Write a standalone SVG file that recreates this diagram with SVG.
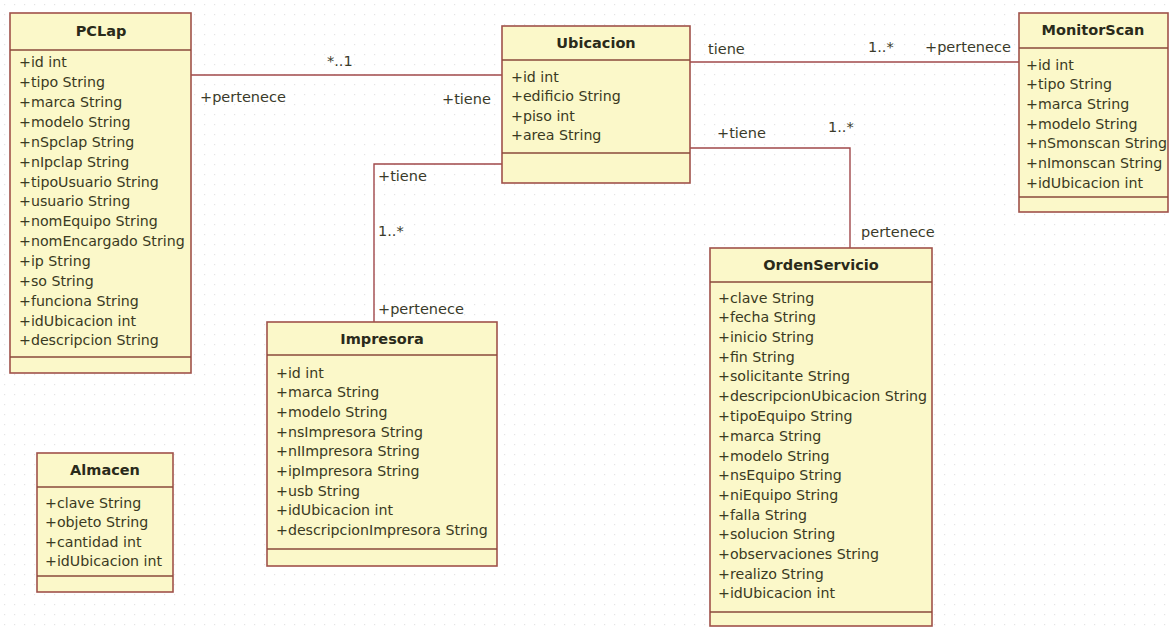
<svg xmlns="http://www.w3.org/2000/svg" width="1169" height="628" viewBox="0 0 1169 628">
<defs>
<pattern id="grid" width="10" height="10" patternUnits="userSpaceOnUse">
<rect x="4" y="4" width="1.2" height="1.2" fill="#e4e4e4"/>
</pattern>
<style>
.box{fill:#fbf8c9;stroke:#a0524a;stroke-width:1.6}
.div{stroke:#8a4a3a;stroke-width:1.4}
.title{font-family:"DejaVu Sans",Verdana,sans-serif;font-size:14.5px;font-weight:bold;fill:#2a2a1a;text-anchor:middle}
.attr{font-family:"DejaVu Sans",Verdana,sans-serif;font-size:14.2px;fill:#3a3a22}
.lbl{font-family:"DejaVu Sans",Verdana,sans-serif;font-size:14.5px;fill:#3a3a2a}
.conn{fill:none;stroke:#a0484a;stroke-width:1.4}
</style>
</defs>
<rect width="1169" height="628" fill="#ffffff"/>
<rect width="1169" height="628" fill="url(#grid)"/>

<g id="connectors">
<line class="conn" x1="191" y1="75" x2="502" y2="75"/>
<line class="conn" x1="690" y1="62" x2="1019" y2="62"/>
<polyline class="conn" points="690,148 850,148 850,248"/>
<polyline class="conn" points="502,164 374,164 374,322"/>
<text class="lbl" x="327" y="66">*..1</text>
<text class="lbl" x="200" y="102">+pertenece</text>
<text class="lbl" x="442" y="104">+tiene</text>
<text class="lbl" x="708" y="54">tiene</text>
<text class="lbl" x="868" y="52">1..*</text>
<text class="lbl" x="925" y="52">+pertenece</text>
<text class="lbl" x="717" y="138">+tiene</text>
<text class="lbl" x="828" y="132">1..*</text>
<text class="lbl" x="861" y="237">pertenece</text>
<text class="lbl" x="378" y="181">+tiene</text>
<text class="lbl" x="378" y="236">1..*</text>
<text class="lbl" x="378" y="314">+pertenece</text>
</g>

<g id="PCLap">
<rect class="box" x="10" y="13" width="181" height="360"/>
<line class="div" x1="10" y1="50" x2="191" y2="50"/>
<line class="div" x1="10" y1="357" x2="191" y2="357"/>
<text class="title" x="101" y="36">PCLap</text>
<text class="attr" x="19" y="67">+id int</text>
<text class="attr" x="19" y="87">+tipo String</text>
<text class="attr" x="19" y="107">+marca String</text>
<text class="attr" x="19" y="127">+modelo String</text>
<text class="attr" x="19" y="147">+nSpclap String</text>
<text class="attr" x="19" y="167">+nIpclap String</text>
<text class="attr" x="19" y="187">+tipoUsuario String</text>
<text class="attr" x="19" y="206">+usuario String</text>
<text class="attr" x="19" y="226">+nomEquipo String</text>
<text class="attr" x="19" y="246">+nomEncargado String</text>
<text class="attr" x="19" y="266">+ip String</text>
<text class="attr" x="19" y="286">+so String</text>
<text class="attr" x="19" y="306">+funciona String</text>
<text class="attr" x="19" y="326">+idUbicacion int</text>
<text class="attr" x="19" y="345">+descripcion String</text>
</g>

<g id="Ubicacion">
<rect class="box" x="502" y="26" width="188" height="157"/>
<line class="div" x1="502" y1="60" x2="690" y2="60"/>
<line class="div" x1="502" y1="153" x2="690" y2="153"/>
<text class="title" x="596" y="48">Ubicacion</text>
<text class="attr" x="511" y="82">+id int</text>
<text class="attr" x="511" y="101">+edificio String</text>
<text class="attr" x="511" y="121">+piso int</text>
<text class="attr" x="511" y="140">+area String</text>
</g>

<g id="MonitorScan">
<rect class="box" x="1019" y="13" width="149" height="199"/>
<line class="div" x1="1019" y1="48" x2="1168" y2="48"/>
<line class="div" x1="1019" y1="197" x2="1168" y2="197"/>
<text class="title" x="1093" y="35">MonitorScan</text>
<text class="attr" x="1026" y="70">+id int</text>
<text class="attr" x="1026" y="89">+tipo String</text>
<text class="attr" x="1026" y="109">+marca String</text>
<text class="attr" x="1026" y="129">+modelo String</text>
<text class="attr" x="1026" y="148">+nSmonscan String</text>
<text class="attr" x="1026" y="168">+nImonscan String</text>
<text class="attr" x="1026" y="188">+idUbicacion int</text>
</g>

<g id="Impresora">
<rect class="box" x="267" y="322" width="230" height="244"/>
<line class="div" x1="267" y1="355" x2="497" y2="355"/>
<line class="div" x1="267" y1="549" x2="497" y2="549"/>
<text class="title" x="382" y="344">Impresora</text>
<text class="attr" x="276" y="378">+id int</text>
<text class="attr" x="276" y="397">+marca String</text>
<text class="attr" x="276" y="417">+modelo String</text>
<text class="attr" x="276" y="437">+nsImpresora String</text>
<text class="attr" x="276" y="456">+nIImpresora String</text>
<text class="attr" x="276" y="476">+ipImpresora String</text>
<text class="attr" x="276" y="496">+usb String</text>
<text class="attr" x="276" y="515">+idUbicacion int</text>
<text class="attr" x="276" y="535">+descripcionImpresora String</text>
</g>

<g id="OrdenServicio">
<rect class="box" x="710" y="248" width="222" height="378"/>
<line class="div" x1="710" y1="282" x2="932" y2="282"/>
<line class="div" x1="710" y1="612" x2="932" y2="612"/>
<text class="title" x="821" y="270">OrdenServicio</text>
<text class="attr" x="718" y="303">+clave String</text>
<text class="attr" x="718" y="322">+fecha String</text>
<text class="attr" x="718" y="342">+inicio String</text>
<text class="attr" x="718" y="362">+fin String</text>
<text class="attr" x="718" y="381">+solicitante String</text>
<text class="attr" x="718" y="401">+descripcionUbicacion String</text>
<text class="attr" x="718" y="421">+tipoEquipo String</text>
<text class="attr" x="718" y="441">+marca String</text>
<text class="attr" x="718" y="461">+modelo String</text>
<text class="attr" x="718" y="480">+nsEquipo String</text>
<text class="attr" x="718" y="500">+niEquipo String</text>
<text class="attr" x="718" y="520">+falla String</text>
<text class="attr" x="718" y="539">+solucion String</text>
<text class="attr" x="718" y="559">+observaciones String</text>
<text class="attr" x="718" y="579">+realizo String</text>
<text class="attr" x="718" y="598">+idUbicacion int</text>
</g>

<g id="Almacen">
<rect class="box" x="37" y="453" width="136" height="139"/>
<line class="div" x1="37" y1="487" x2="173" y2="487"/>
<line class="div" x1="37" y1="576" x2="173" y2="576"/>
<text class="title" x="105" y="475">Almacen</text>
<text class="attr" x="45" y="508">+clave String</text>
<text class="attr" x="45" y="527">+objeto String</text>
<text class="attr" x="45" y="547">+cantidad int</text>
<text class="attr" x="45" y="566">+idUbicacion int</text>
</g>
</svg>
